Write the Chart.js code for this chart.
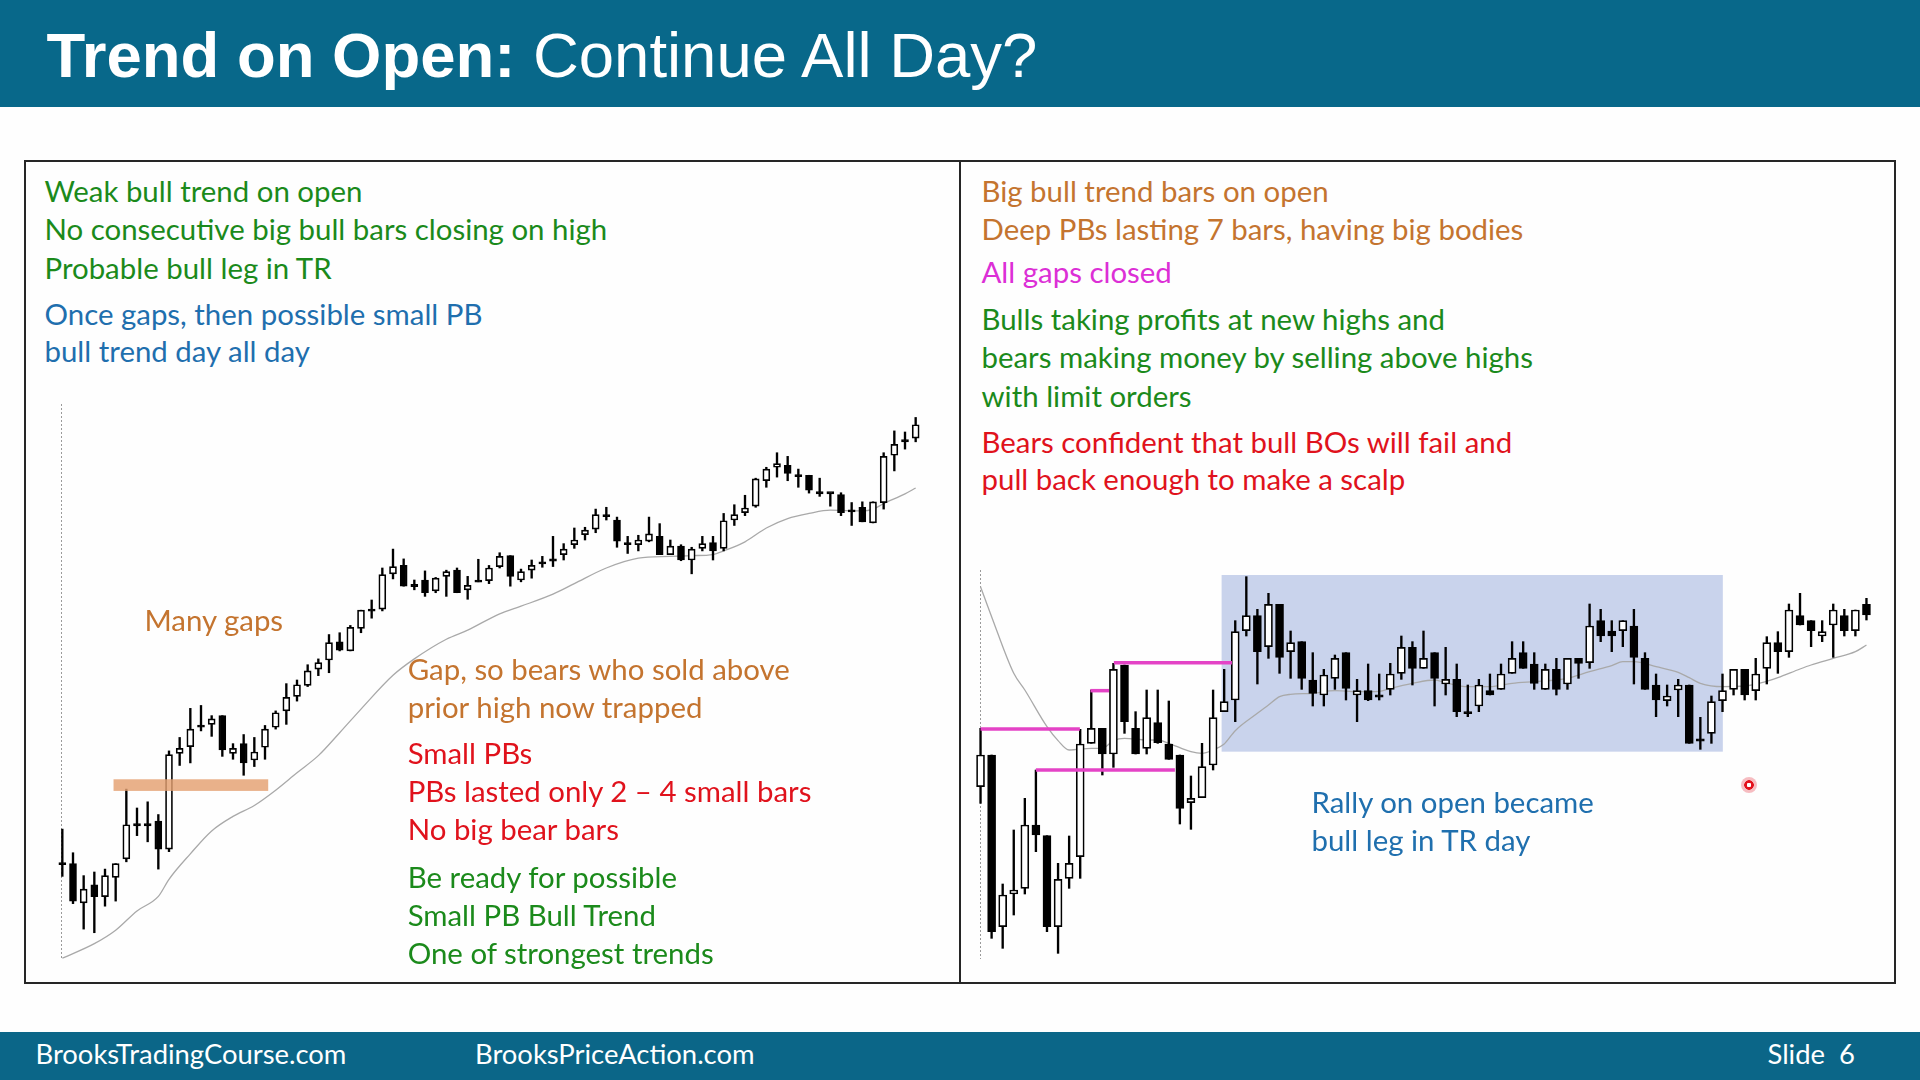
<!DOCTYPE html>
<html>
<head>
<meta charset="utf-8">
<script src="https://cdn.jsdelivr.net/npm/chart.js@4.4.0/dist/chart.umd.min.js"></script>
<style>
html,body{margin:0;padding:0;background:#fefefe;}
body{width:1920px;height:1080px;position:relative;overflow:hidden;}
#header{position:absolute;left:0;top:0;width:1920px;height:107px;background:#08688a;}
#footer{position:absolute;left:0;top:1032px;width:1920px;height:48px;background:#0b6688;}
#box{position:absolute;left:24px;top:160px;width:1872px;height:824px;border:2px solid #262626;box-sizing:border-box;}
#divider{position:absolute;left:959px;top:160px;width:2px;height:824px;background:#262626;}
canvas{position:absolute;}
.txt{position:absolute;white-space:pre;z-index:5;}
#laser{position:absolute;left:1741px;top:777px;width:16px;height:16px;border-radius:50%;
  background:radial-gradient(circle, #ffffff 0 2px, #e3111c 2.5px 4.5px, rgba(238,110,120,0.45) 5px 8px);z-index:6;}
</style>
</head>
<body>
<div id="header"></div>
<div id="box"></div>
<div id="divider"></div>
<div id="footer"></div>
<canvas id="leftChart" width="864" height="570" style="left:57px;top:400px;"></canvas>
<canvas id="rightChart" width="897" height="390" style="left:975px;top:570px;"></canvas>
<div id="laser"></div>
<script>
// ---------------- DATA (arbitrary price units) ----------------
// Left chart: weak bull trend on open (81 bars)
const leftOpen  = [325,325,217,267,234,287,338,432,432,442,365,628,647,703,708,732,628,655,610,645,700,745,785,815,860,885,935,910,972,1022,1025,1122,1145,1090,1105,1075,1115,1132,1078,1102,1103,1142,1172,1105,1132,1152,1160,1175,1202,1230,1245,1282,1270,1205,1202,1212,1225,1175,1198,1160,1192,1208,1192,1270,1290,1308,1378,1415,1420,1392,1393,1345,1345,1340,1295,1305,1262,1318,1448,1488,1495];
const leftHigh  = [420,355,292,302,310,325,530,478,495,460,635,672,752,760,732,732,655,680,672,705,745,820,830,872,888,955,960,980,1022,1050,1138,1190,1163,1105,1130,1112,1132,1138,1115,1162,1145,1180,1172,1135,1160,1170,1225,1205,1248,1250,1300,1305,1278,1225,1228,1278,1260,1215,1202,1195,1225,1225,1288,1312,1338,1385,1415,1455,1445,1410,1393,1385,1345,1345,1318,1320,1320,1455,1515,1512,1552];
const leftLow   = [290,215,145,135,208,222,330,402,385,310,358,595,602,690,675,620,612,568,592,612,695,708,772,812,842,850,910,910,960,1000,1020,1108,1088,1078,1060,1070,1060,1070,1052,1100,1095,1138,1088,1100,1110,1140,1142,1160,1192,1215,1235,1270,1195,1178,1185,1210,1175,1175,1158,1122,1185,1160,1185,1255,1282,1305,1360,1388,1378,1360,1344,1335,1308,1282,1255,1265,1262,1300,1405,1465,1485];
const leftClose = [325,222,255,234,292,325,432,432,432,365,625,642,695,703,723,638,642,602,632,695,740,782,817,855,878,933,912,975,1022,1022,1120,1142,1088,1090,1070,1110,1128,1070,1090,1102,1138,1170,1115,1128,1145,1152,1160,1190,1215,1242,1285,1282,1212,1205,1215,1232,1175,1198,1160,1190,1205,1185,1268,1285,1303,1383,1410,1425,1398,1392,1352,1345,1345,1290,1295,1265,1320,1445,1478,1488,1532];
// 20-bar EMA read at selected bars (null = not read, line spans the gap)
const leftEma = [65,null,null,105,null,142,null,195,null,235,
                 282,null,352,null,415,null,455,null,485,null,
                 527,null,575,null,622,null,685,null,750,null,
                 null,843,null,888,null,null,942,null,967,null,
                 null,1012,null,1033,null,null,1066,null,1095,null,
                 null,1138,null,null,1165,null,null,1170,null,1172,
                 null,1175,1185,null,1210,null,1248,null,1274,null,
                 1288,null,1297,null,null,1295,1300,1315,null,1342,1358];

// Right chart: big bull bars on open, then trading range (81 bars)
const rightOpen  = [550,645,130,228,245,435,403,130,275,340,680,725,648,915,725,665,742,678,645,502,517,615,775,810,1018,1063,970,1097,955,985,870,825,875,952,825,838,822,842,890,968,905,952,858,872,772,792,838,842,890,952,918,842,902,858,935,922,1048,1017,1018,1032,935,855,808,840,855,690,710,808,842,902,838,905,982,955,1063,1048,1002,1035,1063,1018,1097];
const rightHigh  = [725,645,258,420,515,600,403,320,402,722,840,725,920,915,775,840,840,807,645,582,680,840,902,1048,1180,1082,1130,1097,1017,985,952,902,945,952,872,918,888,920,1002,985,1017,952,968,918,855,872,888,918,985,985,952,918,935,935,935,1098,1082,1048,1048,1082,952,888,855,872,855,758,822,888,902,902,935,1000,1015,1098,1130,1048,1048,1098,1082,1080,1115];
const rightLow   = [500,95,65,165,228,355,115,50,245,275,680,585,608,710,648,648,680,632,438,422,517,600,775,745,1002,858,935,890,875,842,792,792,842,810,745,808,810,825,872,855,905,792,825,760,760,775,825,842,890,905,842,842,825,842,875,905,985,955,970,858,842,760,792,760,680,662,680,775,825,810,810,858,890,938,1035,970,985,938,1002,1002,1050];
const rightClose = [645,115,225,240,435,405,130,272,320,678,725,648,902,745,648,757,682,632,485,515,610,757,805,1015,1063,955,1097,938,982,875,830,885,935,845,838,810,822,888,968,905,935,875,872,775,772,855,825,888,935,905,860,902,842,935,920,1032,1002,1002,1048,938,842,810,822,855,680,690,805,838,902,825,888,982,955,1080,1035,1018,1015,1080,1018,1080,1065];
const rightEma = [1150,1060,null,890,840,null,730,688,660,null,
                  665,665,688,695,null,690,690,680,null,655,
                  650,660,678,718,null,770,795,820,827,null,
                  830,null,838,null,835,null,836,845,null,860,
                  null,870,862,null,850,null,850,null,860,null,
                  865,null,870,875,null,895,null,913,925,925,
                  null,910,null,893,877,860,null,850,null,852,
                  null,866,877,null,903,915,null,935,null,955,975];

// Bar numbers (category labels)
const leftBars  = leftOpen.map((_, i) => String(i + 1));
const rightBars = rightOpen.map((_, i) => String(i + 1));

// Chart annotations (in bar index / price units)
const leftGapBand   = {from: 4.8, to: 19.3, low: 525, high: 557};
const leftSession   = {at: 0, top: 1589, bottom: 62};
const rightRangeBox = {from: 21.77, to: 67.03, low: 655, high: 1185};
const rightSession  = {at: 0, top: 1200, bottom: 33};
const rightGapLines = [
  {from: 0,     to: 8.97,  price: 723},
  {from: 5.0,   to: 17.55, price: 600},
  {from: 9.93,  to: 11.6,  price: 838},
  {from: 12.04, to: 22.7,  price: 922}
];

// ---------------- CHARTS ----------------
const slideMarks = {
  id: 'slideMarks',
  beforeDatasetsDraw(chart, args, o) {
    const {ctx, scales: {x, y}} = chart;
    ctx.save();
    (o.backRects || []).forEach(r => {
      ctx.fillStyle = r.color;
      const x0 = x.getPixelForValue(r.from), x1 = x.getPixelForValue(r.to);
      const y0 = y.getPixelForValue(r.high), y1 = y.getPixelForValue(r.low);
      ctx.fillRect(x0, y0, x1 - x0, y1 - y0);
    });
    if (o.session) {
      const s = o.session;
      ctx.strokeStyle = '#9a9a9a';
      ctx.lineWidth = 1;
      ctx.setLineDash([2, 2]);
      const px = Math.round(x.getPixelForValue(s.at)) - 0.5;
      ctx.beginPath();
      ctx.moveTo(px, y.getPixelForValue(s.top));
      ctx.lineTo(px, y.getPixelForValue(s.bottom));
      ctx.stroke();
      ctx.setLineDash([]);
    }
    ctx.restore();
  },
  afterDatasetsDraw(chart, args, o) {
    const {ctx, scales: {x, y}} = chart;
    ctx.save();
    (o.frontRects || []).forEach(r => {
      ctx.fillStyle = r.color;
      const x0 = x.getPixelForValue(r.from), x1 = x.getPixelForValue(r.to);
      const y0 = y.getPixelForValue(r.high), y1 = y.getPixelForValue(r.low);
      ctx.fillRect(x0, y0, x1 - x0, y1 - y0);
    });
    (o.lines || []).forEach(l => {
      ctx.strokeStyle = l.color;
      ctx.lineWidth = l.width;
      const py = y.getPixelForValue(l.price);
      ctx.beginPath();
      ctx.moveTo(x.getPixelForValue(l.from), py);
      ctx.lineTo(x.getPixelForValue(l.to), py);
      ctx.stroke();
    });
    ctx.restore();
  }
};

function candleChart(id, labels, O, H, L, C, EMA, yMin, yMax, bodyW, marks) {
  const canvas = document.getElementById(id);
  const unitsPerPx = (yMax - yMin) / canvas.height;
  const minBody = 2.2 * unitsPerPx;
  const bodies = O.map((o, i) => {
    let lo = Math.min(o, C[i]), hi = Math.max(o, C[i]);
    if (hi - lo < minBody) { const m = (hi + lo) / 2; lo = m - minBody / 2; hi = m + minBody / 2; }
    return [lo, hi];
  });
  const fills = O.map((o, i) => (C[i] > o + minBody ? '#ffffff' : '#000000'));
  return new Chart(canvas, {
    type: 'bar',
    plugins: [slideMarks],
    data: {
      labels,
      datasets: [
        {type: 'bar', label: 'body', data: bodies, backgroundColor: fills, borderColor: '#000000',
         borderWidth: 1.7, borderSkipped: false, barThickness: bodyW, grouped: false, order: 0},
        {type: 'bar', label: 'wick', data: L.map((l, i) => [l, H[i]]), backgroundColor: '#000000',
         barThickness: 1.7, grouped: false, order: 1},
        {type: 'line', label: 'ema', data: EMA, borderColor: '#a9a9a9', borderWidth: 1.3,
         pointRadius: 0, spanGaps: true, cubicInterpolationMode: 'monotone', order: 2}
      ]
    },
    options: {
      responsive: false, animation: false, events: [],
      layout: {padding: 0},
      plugins: {legend: {display: false}, tooltip: {enabled: false}, slideMarks: marks},
      scales: {
        x: {type: 'category', display: false, offset: true, grid: {display: false}},
        y: {display: false, min: yMin, max: yMax}
      }
    }
  });
}

candleChart('leftChart', leftBars, leftOpen, leftHigh, leftLow, leftClose, leftEma, 32.5, 1600, 7, {
  session: leftSession,
  frontRects: [Object.assign({color: 'rgba(228,160,112,0.82)'}, leftGapBand)]
});
candleChart('rightChart', rightBars, rightOpen, rightHigh, rightLow, rightClose, rightEma, 30, 1200, 8, {
  session: rightSession,
  backRects: [Object.assign({color: '#c9d3ec'}, rightRangeBox)],
  lines: rightGapLines.map(l => Object.assign({color: '#e443c6', width: 3.5}, l))
});

// ---------------- TEXT ----------------
const GREEN = '#1b8a1b', BLUE = '#1f6fae', ORANGE = '#c4742f', RED = '#e0121c', MAGENTA = '#dc2fd6';
const BODY_FONT = 'Lato';
const mctx = document.createElement('canvas').getContext('2d');
function widthOf(font, text) { mctx.font = font; return mctx.measureText(text).width; }

function addText(spans, family, size, x, baseline, weight) {
  const div = document.createElement('div');
  div.className = 'txt';
  mctx.font = `${size}px "${family}"`;
  const m = mctx.measureText('Hg');
  const asc = m.fontBoundingBoxAscent, desc = m.fontBoundingBoxDescent;
  div.style.fontFamily = `"${family}"`;
  div.style.fontSize = size + 'px';
  div.style.lineHeight = (asc + desc) + 'px';
  div.style.left = x + 'px';
  div.style.top = (baseline - asc) + 'px';
  spans.forEach(s => {
    const sp = document.createElement('span');
    sp.textContent = s.t;
    sp.style.color = s.c;
    sp.style.fontWeight = s.bold ? 'bold' : (weight || 'normal');
    div.appendChild(sp);
  });
  document.body.appendChild(div);
}

// body text size matched to the reference line width
const bodySize = 100 * 563 / widthOf(`100px "${BODY_FONT}"`, 'No consecutive big bull bars closing on high');
const bodyLines = [
  ['Weak bull trend on open', GREEN, 44.5, 201.7],
  ['No consecutive big bull bars closing on high', GREEN, 44.5, 239.7],
  ['Probable bull leg in TR', GREEN, 44.5, 278.5],
  ['Once gaps, then possible small PB', BLUE, 44.5, 324.5],
  ['bull trend day all day', BLUE, 44.5, 361.5],
  ['Many gaps', ORANGE, 144.5, 630.5],
  ['Gap, so bears who sold above', ORANGE, 407.7, 680],
  ['prior high now trapped', ORANGE, 407.7, 717.5],
  ['Small PBs', RED, 407.7, 764],
  ['PBs lasted only 2 \u2013 4 small bars', RED, 407.7, 802],
  ['No big bear bars', RED, 407.7, 840],
  ['Be ready for possible', GREEN, 407.7, 887.5],
  ['Small PB Bull Trend', GREEN, 407.7, 925.5],
  ['One of strongest trends', GREEN, 407.7, 963.5],
  ['Big bull trend bars on open', ORANGE, 981.5, 202.3],
  ['Deep PBs lasting 7 bars, having big bodies', ORANGE, 981.5, 240],
  ['All gaps closed', MAGENTA, 981.5, 282.5],
  ['Bulls taking profits at new highs and', GREEN, 981.5, 330],
  ['bears making money by selling above highs', GREEN, 981.5, 368],
  ['with limit orders', GREEN, 981.5, 406.5],
  ['Bears confident that bull BOs will fail and', RED, 981.5, 452.5],
  ['pull back enough to make a scalp', RED, 981.5, 490],
  ['Rally on open became', BLUE, 1311.5, 813],
  ['bull leg in TR day', BLUE, 1311.5, 851]
];
bodyLines.forEach(([t, c, x, b]) => addText([{t, c}], BODY_FONT, bodySize, x, b));

// title
const TITLE_FONT = 'Liberation Sans';
const tBold = 'Trend on Open:', tReg = ' Continue All Day?';
const titleW = widthOf(`bold 100px "${TITLE_FONT}"`, tBold) + widthOf(`100px "${TITLE_FONT}"`, tReg);
const titleSize = 100 * 994.5 / titleW;
addText([{t: tBold, c: '#ffffff', bold: true}, {t: tReg, c: '#ffffff'}], TITLE_FONT, titleSize, 46.5, 77);

// footer
const footSize = 100 * 311 / widthOf(`100px "${BODY_FONT}"`, 'BrooksTradingCourse.com');
addText([{t: 'BrooksTradingCourse.com', c: '#ffffff'}], BODY_FONT, footSize, 35.5, 1064);
addText([{t: 'BrooksPriceAction.com', c: '#ffffff'}], BODY_FONT, footSize, 475, 1064);
addText([{t: 'Slide  6', c: '#ffffff'}], BODY_FONT, footSize, 1767.5, 1064);
</script>
</body>
</html>
